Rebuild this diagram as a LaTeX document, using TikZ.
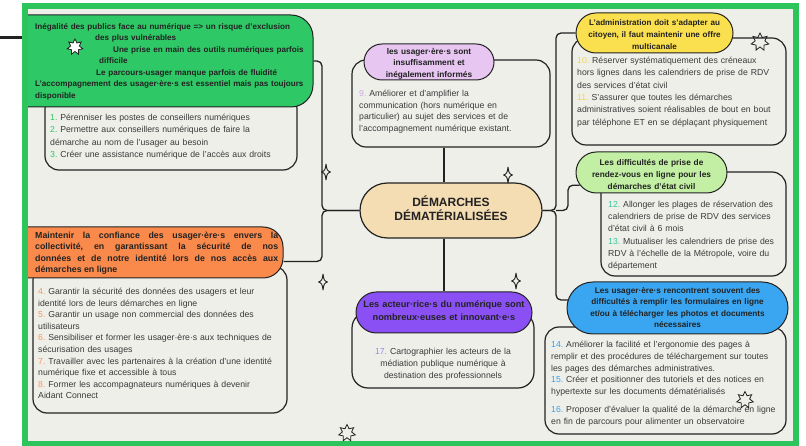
\documentclass[tikz,border=0pt]{standalone}
\usepackage{fontspec}
\setmainfont{Liberation Sans}
\usetikzlibrary{shapes.geometric,shapes.misc}
\definecolor{bgc}{HTML}{EFEFEA}
\definecolor{frameg}{HTML}{2EC45C}
\definecolor{hgreen}{HTML}{2FC866}
\definecolor{hlav}{HTML}{E7C6F1}
\definecolor{hwheat}{HTML}{F4DCB3}
\definecolor{hyellow}{HTML}{FADF4E}
\definecolor{hlgreen}{HTML}{C2EFA4}
\definecolor{hblue}{HTML}{3AA6F1}
\definecolor{horange}{HTML}{FA8A4C}
\definecolor{hpurple}{HTML}{8A50F4}
\definecolor{ink}{HTML}{222222}
\definecolor{txt}{HTML}{3A3A3A}
\definecolor{ngreen}{HTML}{2FC866}
\definecolor{norange}{HTML}{F5985F}
\definecolor{nlav}{HTML}{CBA9E6}
\definecolor{nyellow}{HTML}{F2D64A}
\definecolor{nteal}{HTML}{36C79B}
\definecolor{nblue}{HTML}{3A9FF0}
\definecolor{npurple}{HTML}{9C88EE}
\pgfdeclarelayer{back}
\pgfdeclarelayer{front}
\pgfsetlayers{back,main,front}
\tikzset{
 conn/.style={draw=ink, line width=1.3pt, rounded corners=5pt},
 bodybox/.style={draw=ink, line width=1.2pt, fill=bgc, rectangle, rounded corners=14pt, inner sep=0pt},
 pill/.style={draw=ink, line width=1pt, rounded rectangle, inner sep=0pt},
 bodytxt/.style={anchor=base west, inner sep=0pt, align=left, text width=#1, text=txt},
 ctxt/.style={anchor=base, inner sep=0pt, align=center, text width=#1, text=ink},
 startbx/.style={star, star points=7, star point ratio=1.8, draw=ink, line width=0.8pt, inner sep=0pt},
 sparkle/.pic={\draw[ink, line width=0.9pt, line join=round] (0,-8) .. controls (1,-1.5) .. (4.5,0) .. controls (1,1.5) .. (0,8) .. controls (-1,1.5) .. (-4.5,0) .. controls (-1,-1.5) .. (0,-8) -- cycle;}
}
\begin{document}
\frenchspacing
\begin{tikzpicture}[x=1pt,y=-1pt]
\useasboundingbox (0,0) rectangle (806,446);
\begin{pgfonlayer}{back}
\fill[white] (0,0) rectangle (806,446);
\fill[bgc] (25,6) rectangle (796,443);
\draw[line width=3pt, ink] (0,38) -- (40,38);
\end{pgfonlayer}

% body boxes
\node[bodybox, minimum width=252, minimum height=75] (gb) at (171,132.5) {};
\node[bodybox, minimum width=198, minimum height=87] (lb) at (451,103.5) {};
\node[bodybox, minimum width=214, minimum height=107] (yb) at (679,91.5) {};
\node[bodybox, minimum width=185, minimum height=104] (lgb) at (693.5,224) {};
\node[bodybox, minimum width=241, minimum height=107] (bb) at (665.5,380.5) {};
\node[bodybox, minimum width=254, minimum height=147] (ob) at (160,339.5) {};
\node[bodybox, minimum width=182, minimum height=76, rounded corners=16pt] (pb) at (443,350) {};

% headers
\begin{scope}
\clip (25,0) rectangle (806,446);
\node[draw=ink, line width=1pt, fill=hgreen, rectangle, rounded corners=22pt, inner sep=0pt, minimum width=343, minimum height=92] (gh) at (141.5,61) {};
\node[draw=ink, line width=1pt, fill=horange, rectangle, rounded corners=20pt, inner sep=0pt, minimum width=313, minimum height=51] (oh) at (126.5,252.5) {};
\end{scope}
\node[pill, fill=hlav, minimum width=130, minimum height=36] (lh) at (429,62) {};
\node[pill, fill=hwheat, minimum width=182, minimum height=55, line width=1.2pt] (c) at (451,210.5) {};
\node[pill, fill=hyellow, minimum width=157, minimum height=40] (yh) at (654.5,33) {};
\node[pill, fill=hlgreen, minimum width=151, minimum height=41] (lgh) at (651.5,172.5) {};
\node[pill, fill=hblue, minimum width=221, minimum height=52] (bh) at (677.5,308) {};
\node[pill, fill=hpurple, minimum width=176, minimum height=41] (ph) at (444,312.5) {};

% connectors
\coordinate (lbus) at (322,210.5);
\coordinate (rbus) at (556,210.5);
\begin{pgfonlayer}{back}
\draw[conn] (gh.east) -| (lbus) -- (c.west);
\draw[conn] (c.west) -- (lbus) |- ([yshift=-9pt]oh.east);
\draw[conn] (yh.west) -| (rbus) -- (c.east);
\draw[conn] (c.east) -- (rbus) |- ([xshift=1.5pt,yshift=8pt]bh.west);
\draw[conn] (rbus) -- ++(12,0) |- (lgh.190);
\draw[conn] (ph.north |- lb.south) -- (ph.north |- c.north);
\draw[conn] (ph.north |- c.south) -- (ph.north);
\end{pgfonlayer}

% header texts
\node[bodytxt=300, text=ink, font=\bfseries\fontsize{8.1}{11.5}\selectfont] (tgh) at (35,29.5) {Inégalité des publics face au numérique => un risque d'exclusion\\
\hspace*{60pt}des plus vulnérables\\
\hspace*{78pt}Une prise en main des outils numériques parfois\\
\hspace*{64pt}difficile\\
\hspace*{61pt}Le parcours-usager manque parfois de fluidité\\
L'accompagnement des usager·ère·s est essentiel mais pas toujours\\
disponible};
\node[ctxt=140, font=\bfseries\fontsize{8.3}{11.5}\selectfont] (tlh) at (429,54.5) {les usager·ère·s sont\\insuffisamment et\\inégalement informés};
\node[ctxt=180, font=\bfseries\fontsize{12}{14}\selectfont] (tc) at (451,206.3) {DÉMARCHES\\DÉMATÉRIALISÉES};
\node[ctxt=170, font=\bfseries\fontsize{8.1}{12}\selectfont] (tyh) at (654.5,25.5) {L'administration doit s'adapter au\\citoyen, il faut maintenir une offre\\multicanale};
\node[ctxt=160, font=\bfseries\fontsize{8.3}{12}\selectfont] (tlgh) at (651.5,165.5) {Les difficultés de prise de\\rendez-vous en ligne pour les\\démarches d'état civil};
\node[ctxt=230, font=\bfseries\fontsize{8.2}{11.3}\selectfont] (tbh) at (677.5,293.5) {Les usager·ère·s rencontrent souvent des\\difficultés à remplir les formulaires en ligne\\et/ou à télécharger les photos et documents\\nécessaires};
\node[anchor=base west, inner sep=0pt, align=justify, text width=243, text=ink, font=\bfseries\fontsize{8.8}{11.3}\selectfont] (toh) at (35,238.6) {Maintenir la confiance des usager·ère·s envers la\linebreak collectivité, en garantissant la sécurité de nos\linebreak données et de notre identité lors de nos accès aux\linebreak démarches en ligne};
\node[ctxt=200, font=\bfseries\fontsize{9.2}{13}\selectfont] (tph) at (444,307.8) {Les acteur·rice·s du numérique sont\\nombreux·euses et innovant·e·s};

% body texts
\node[bodytxt=245, font=\fontsize{8.7}{12.3}\selectfont] (tgb) at (50,120.6) {\textcolor{ngreen}{1.} Pérenniser les postes de conseillers numériques\\
\textcolor{ngreen}{2.} Permettre aux conseillers numériques de faire la\\
démarche au nom de l'usager au besoin\\
\textcolor{ngreen}{3.} Créer une assistance numérique de l'accès aux droits};
\node[bodytxt=190, font=\fontsize{8.7}{11.7}\selectfont] (tlb) at (359,96.6) {\textcolor{nlav}{9.} Améliorer et d'amplifier la\\
communication (hors numérique en\\
particulier) au sujet des services et de\\
l'accompagnement numérique existant.};
\node[bodytxt=210, font=\fontsize{8.7}{12.3}\selectfont] (tyb) at (577,63.6) {\textcolor{nyellow}{10.} Réserver systématiquement des créneaux\\
hors lignes dans les calendriers de prise de RDV\\
des services d'état civil\\
\textcolor{nyellow}{11.} S'assurer que toutes les démarches\\
administratives soient réalisables de bout en bout\\
par téléphone ET en se déplaçant physiquement};
\node[bodytxt=180, font=\fontsize{8.7}{12.2}\selectfont] (tlgb) at (608,207.6) {\textcolor{nteal}{12.} Allonger les plages de réservation des\\
calendriers de prise de RDV des services\\
d'état civil à 6 mois\\
\textcolor{nteal}{13.} Mutualiser les calendriers de prise des\\
RDV à l'échelle de la Métropole, voire du\\
département};
\node[bodytxt=235, font=\fontsize{8.7}{11.7}\selectfont] (tbb) at (551,347.6) {\textcolor{nblue}{14.} Améliorer la facilité et l'ergonomie des pages à\\
remplir et des procédures de téléchargement sur toutes\\
les pages des démarches administratives.\\
\textcolor{nblue}{15.} Créer et positionner des tutoriels et des notices en\\
hypertexte sur les documents dématérialisés\\[6.5pt]
\textcolor{nblue}{16.} Proposer d'évaluer la qualité de la démarche en ligne\\
en fin de parcours pour alimenter un observatoire};
\node[bodytxt=250, font=\fontsize{8.7}{11.6}\selectfont] (tob) at (38,294.6) {\textcolor{norange}{4.} Garantir la sécurité des données des usagers et leur\\
identité lors de leurs démarches en ligne\\
\textcolor{norange}{5.} Garantir un usage non commercial des données des\\
utilisateurs\\
\textcolor{norange}{6.} Sensibiliser et former les usager·ère·s aux techniques de\\
sécurisation des usages\\
\textcolor{norange}{7.} Travailler avec les partenaires à la création d'une identité\\
numérique fixe et accessible à tous\\
\textcolor{norange}{8.} Former les accompagnateurs numériques à devenir\\
Aidant Connect};
\node[ctxt=180, text=txt, font=\fontsize{8.7}{12}\selectfont] (tpb) at (443,354.6) {\textcolor{npurple}{17.} Cartographier les acteurs de la\\médiation publique numérique à\\destination des professionnels};

% frame and decorations
\begin{pgfonlayer}{front}
\draw[frameg, line width=6pt] (25,6) rectangle (796,443.5);
\node[startbx, fill=white, minimum size=16] (s1) at (75,47) {};
\node[startbx, minimum size=18] (s2) at (760,42) {};
\node[startbx, minimum size=17] (s3) at (745,400) {};
\node[startbx, minimum size=17] (s4) at (347,433) {};
\pic at (326,172) {sparkle};
\pic at (323,282) {sparkle};
\pic at (508,175) {sparkle};
\pic at (516,281) {sparkle};
\end{pgfonlayer}
\end{tikzpicture}
\end{document}
